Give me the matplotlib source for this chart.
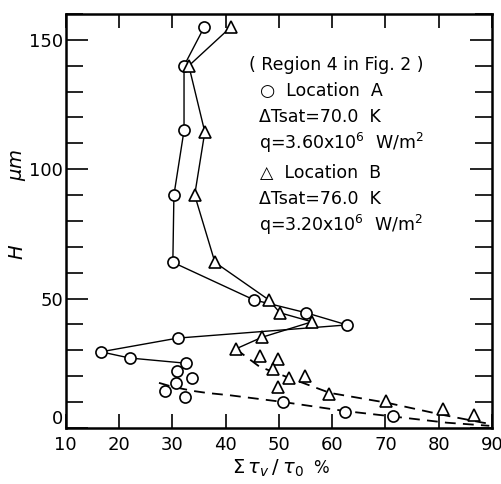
import matplotlib
matplotlib.use("Agg")
import matplotlib.pyplot as plt
from matplotlib.ticker import MultipleLocator

# Location A (circles), solid path
a_x = [36.0, 32.2, 32.2, 30.3, 30.1, 45.3, 55.1, 62.8, 31.0, 16.6, 22.0, 32.5]
a_y = [155.0, 140.0, 115.0, 90.0, 64.0, 49.5, 44.5, 39.8, 34.7, 29.4, 27.0, 25.0]
# Location A, scattered circles near the wall
a2_x = [30.8, 33.7, 30.7, 28.6, 32.3, 50.8, 62.4, 71.4]
a2_y = [22.0, 19.4, 17.3, 14.4, 12.0, 10.0, 6.2, 4.6]
# Location A dashed trend
ad_x = [27.5, 30.0, 33.8, 36.5, 40.8, 50.8, 62.4, 71.4, 81.5, 89.5]
ad_y = [17.4, 15.9, 14.3, 13.5, 12.6, 10.0, 6.5, 4.4, 2.0, 0.8]

# Location B (triangles), solid path
b_x = [41.0, 33.1, 36.1, 34.2, 38.0, 48.1, 50.2, 56.2, 46.8, 41.9]
b_y = [155.0, 140.0, 114.4, 90.0, 64.0, 49.5, 44.5, 41.0, 35.0, 30.5]
# Location B, scattered triangles
b2_x = [46.4, 49.8, 48.9, 51.9, 54.9, 49.8, 59.4, 70.1, 80.8, 86.6]
b2_y = [27.8, 26.7, 22.8, 19.3, 20.0, 15.8, 13.1, 10.4, 7.3, 5.0]
# Location B dashed trend
bd_x = [41.9, 46.4, 52.0, 59.6, 70.3, 80.8, 88.3, 90.0]
bd_y = [30.5, 23.6, 19.3, 13.5, 9.7, 5.0, 2.0, 1.5]

x_ticks = [10, 20, 30, 40, 50, 60, 70, 80, 90]
y_ticks = [0, 50, 100, 150]

fig = plt.figure(figsize=(5.02, 4.84), dpi=100)
ax = fig.add_axes([0.131, 0.116, 0.849, 0.855])

lw = 1.0
ms = 8
ax.plot(a_x, a_y, '-', color='black', lw=lw, marker='o', ms=ms,
        mfc='white', mec='black', mew=1.2, zorder=3)
ax.plot(a2_x, a2_y, 'o', ms=ms, mfc='white', mec='black', mew=1.2, zorder=4)
ax.plot(ad_x, ad_y, '--', color='black', lw=1.3, dashes=(6, 4), zorder=2)

ax.plot(b_x, b_y, '-', color='black', lw=lw, marker='^', ms=ms + 1,
        mfc='white', mec='black', mew=1.2, zorder=3)
ax.plot(b2_x, b2_y, '^', ms=ms + 1, mfc='white', mec='black', mew=1.2, zorder=4)
ax.plot(bd_x, bd_y, '--', color='black', lw=1.3, dashes=(6, 4), zorder=2)

ax.set_xlim(10, 90)
ax.set_ylim(0, 160)
ax.set_xticks(x_ticks)
ax.set_yticks(y_ticks)
ax.yaxis.set_minor_locator(MultipleLocator(10))
tickfont = dict(family='DejaVu Sans', size=13)
ax.set_xticklabels([str(v) for v in x_ticks], **tickfont)
ylabels = ax.set_yticklabels([str(v) for v in y_ticks], **tickfont)
ylabels[0].set_verticalalignment('bottom')
ax.tick_params(which='both', direction='in', top=True, right=True, width=1.2)
ax.tick_params(axis='x', which='major', length=10, pad=6)
ax.tick_params(axis='y', which='major', length=16, pad=2)
ax.tick_params(axis='y', which='minor', length=12)
for s in ax.spines.values():
    s.set_linewidth(1.8)

# axis labels
fig.text(0.535, 0.033, r"$\Sigma\,\tau_v\,/\;\tau_0$", ha='center', va='center',
         fontsize=14, family='serif')
fig.text(0.64, 0.033, "%", ha='center', va='center', fontsize=12)
fig.text(0.036, 0.48, r"$H$", ha='center', va='center', fontsize=14,
         rotation=90, family='serif')
fig.text(0.036, 0.66, r"$\mu m$", ha='center', va='center', fontsize=14,
         rotation=90, family='serif')

# annotation block
tf = dict(fontsize=12.5, family='DejaVu Sans', transform=fig.transFigure,
          va='center', ha='left')
lines = [
    (0.496, 65, "( Region 4 in Fig. 2 )"),
    (0.518, 91, "\u25cb  Location  A"),
    (0.516, 117, "\u0394Tsat=70.0  K"),
    (0.516, 143, "q=3.60x10$^6$  W/m$^2$"),
    (0.518, 173, "\u25b3  Location  B"),
    (0.516, 199, "\u0394Tsat=76.0  K"),
    (0.516, 225, "q=3.20x10$^6$  W/m$^2$"),
]
for xf, py, s in lines:
    fig.text(xf, 1 - py / 484, s, **tf)

fig.savefig("out.png", dpi=100)
